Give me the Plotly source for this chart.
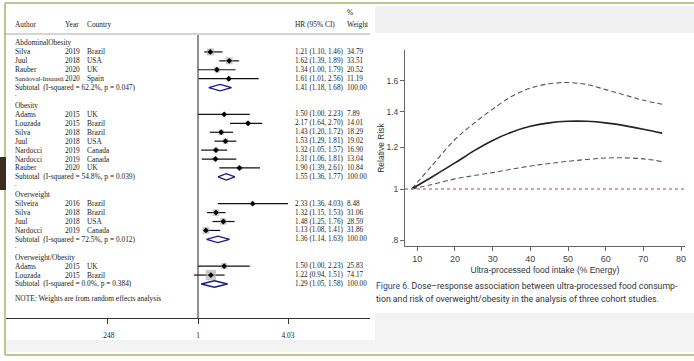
import math
import plotly.graph_objects as go

W, H = 694, 361

# ---------------- Forest plot data ----------------
groups = ["AbdominalObesity", "Obesity", "Overweight", "Overweight/Obesity"]
study_group = [0, 0, 0, 0, 1, 1, 1, 1, 1, 1, 1, 2, 2, 2, 2, 3, 3]
authors = ["Silva", "Juul", "Rauber", "Sandoval-Insausti",
           "Adams", "Louzada", "Silva", "Juul", "Nardocci", "Nardocci", "Rauber",
           "Silveira", "Silva", "Juul", "Nardocci",
           "Adams", "Louzada"]
years = [2019, 2018, 2020, 2020, 2015, 2015, 2018, 2018, 2019, 2019, 2020,
         2016, 2018, 2018, 2019, 2015, 2015]
countries = ["Brazil", "USA", "UK", "Spain",
             "UK", "Brazil", "Brazil", "USA", "Canada", "Canada", "UK",
             "Brazil", "Brazil", "USA", "Canada",
             "UK", "Brazil"]
hr = [1.21, 1.62, 1.34, 1.61, 1.50, 2.17, 1.43, 1.53, 1.32, 1.31, 1.90,
      2.33, 1.32, 1.48, 1.13, 1.50, 1.22]
hr_lo = [1.10, 1.39, 1.00, 1.01, 1.00, 1.64, 1.20, 1.29, 1.05, 1.06, 1.39,
         1.36, 1.15, 1.25, 1.08, 1.00, 0.94]
hr_hi = [1.46, 1.89, 1.79, 2.56, 2.23, 2.70, 1.72, 1.81, 1.57, 1.81, 2.61,
         4.03, 1.53, 1.76, 1.41, 2.23, 1.51]
weights = [34.79, 33.51, 20.52, 11.19, 7.89, 14.01, 18.29, 19.02, 16.90, 13.04, 10.84,
           8.48, 31.06, 28.59, 31.86, 25.83, 74.17]
sub_hr = [1.41, 1.55, 1.36, 1.29]
sub_lo = [1.18, 1.36, 1.14, 1.05]
sub_hi = [1.68, 1.77, 1.63, 1.58]
sub_i2 = ["62.2%", "54.8%", "72.5%", "0.0%"]
sub_p = ["0.047", "0.039", "0.012", "0.384"]
forest_ticks = [0.248, 1, 4.03]
forest_ticktext = [".248", "1", "4.03"]

# ---------------- Dose-response data ----------------
dose = [8.5, 14, 20, 25, 30, 35, 40, 45, 50, 55, 60, 65, 70, 75]
rr = [1.0, 1.055, 1.12, 1.18, 1.235, 1.28, 1.313, 1.333, 1.342, 1.342, 1.333, 1.317, 1.297, 1.275]
rr_upper = [1.0, 1.11, 1.24, 1.33, 1.415, 1.495, 1.55, 1.58, 1.588, 1.575, 1.54, 1.505, 1.47, 1.445]
rr_lower = [1.0, 1.02, 1.045, 1.06, 1.074, 1.09, 1.105, 1.117, 1.128, 1.137, 1.144, 1.145, 1.14, 1.127]
dr_xticks = [10, 20, 30, 40, 50, 60, 70, 80]
dr_yticks = [0.8, 1, 1.2, 1.4, 1.6]
dr_yticktext = [".8", "1", "1.2", "1.4", "1.6"]


def px_x(p):
    return p / W


def px_y(p):
    return 1 - p / H


# ---- row layout of the forest plot ----
row = 0
head_rows, study_rows, sub_rows, blank_rows = [], [], [], []
for g in range(len(groups)):
    head_rows.append(row)
    row += 1
    for i, sg in enumerate(study_group):
        if sg == g:
            study_rows.append(row)
            row += 1
    sub_rows.append(row)
    row += 1
    blank_rows.append(row)
    row += 1
note_row = row

fig = go.Figure()

# CI lines
cx, cy = [], []
for r, lo, hi in zip(study_rows, hr_lo, hr_hi):
    cx += [lo, hi, None]
    cy += [r, r, None]
fig.add_trace(go.Scatter(x=cx, y=cy, mode="lines", line=dict(color="#111", width=1.2),
                         xaxis="x", yaxis="y", hoverinfo="skip"))
# weight boxes
fig.add_trace(go.Scatter(x=hr, y=study_rows, mode="markers",
                         marker=dict(symbol="square", size=[1.2 * math.sqrt(w) for w in weights],
                                     color="#b4b4b4", line=dict(width=0)),
                         xaxis="x", yaxis="y"))
# point estimates
fig.add_trace(go.Scatter(x=hr, y=study_rows, mode="markers",
                         marker=dict(symbol="diamond", size=4.5, color="#000"),
                         xaxis="x", yaxis="y"))
# subtotal diamonds
dx, dy = [], []
for r, e, lo, hi in zip(sub_rows, sub_hr, sub_lo, sub_hi):
    dx += [lo, e, hi, e, lo, None]
    dy += [r, r - 0.36, r, r + 0.36, r, None]
fig.add_trace(go.Scatter(x=dx, y=dy, mode="lines", line=dict(color="#1b1b8a", width=1.4),
                         xaxis="x", yaxis="y"))

# dose-response curves
dash_style = "5px,3px"
fig.add_trace(go.Scatter(x=dose, y=rr_upper, mode="lines",
                         line=dict(color="#555", width=1.1, dash=dash_style, shape="spline"),
                         xaxis="x2", yaxis="y2"))
fig.add_trace(go.Scatter(x=dose, y=rr_lower, mode="lines",
                         line=dict(color="#555", width=1.1, dash=dash_style, shape="spline"),
                         xaxis="x2", yaxis="y2"))
fig.add_trace(go.Scatter(x=dose, y=rr, mode="lines", line=dict(color="#222", width=1.6, shape="spline"),
                         xaxis="x2", yaxis="y2"))

serif = "Liberation Serif, Times New Roman, serif"
sans = "Liberation Sans, Arial, sans-serif"
cap_font = "Roboto, Open Sans, sans-serif"
fs = 7.4
fs_num = 7.2
tcol = "#222"

ann = []


def txt(x, y, s, yref="y", size=fs, font=serif, color=tcol, xanchor="left"):
    ann.append(dict(x=x, y=y, xref="paper", yref=yref, text=s, showarrow=False,
                    xanchor=xanchor, yanchor="middle", font=dict(family=font, size=size, color=color)))


# header
txt(px_x(13), px_y(24), "Author", yref="paper")
txt(px_x(63), px_y(24), "Year", yref="paper")
txt(px_x(85), px_y(24), "Country", yref="paper")
txt(px_x(293), px_y(24), "HR (95% CI)", yref="paper")
txt(px_x(345), px_y(13), "%", yref="paper")
txt(px_x(345), px_y(24), "Weight", yref="paper")

for g, name in enumerate(groups):
    txt(px_x(13), head_rows[g], name)
    txt(px_x(13), sub_rows[g], f"Subtotal  (I-squared = {sub_i2[g]}, p = {sub_p[g]})")
    txt(px_x(293), sub_rows[g], f"{sub_hr[g]:.2f} ({sub_lo[g]:.2f}, {sub_hi[g]:.2f})", size=fs_num)
    txt(px_x(345), sub_rows[g], "100.00", size=fs_num)
for b in blank_rows[:-1]:
    txt(px_x(13), b - 0.25, ".", size=6)
for i, r in enumerate(study_rows):
    name = authors[i]
    txt(px_x(13), r, name, size=fs if len(name) < 12 else 6.8)
    txt(px_x(63), r, str(years[i]))
    txt(px_x(85), r, countries[i])
    txt(px_x(293), r, f"{hr[i]:.2f} ({hr_lo[i]:.2f}, {hr_hi[i]:.2f})", size=fs_num)
    txt(px_x(345), r, f"{weights[i]:.2f}", size=fs_num)
txt(px_x(13), note_row - 0.4, "NOTE: Weights are from random effects analysis")

# caption
ann.append(dict(x=px_x(374), y=px_y(286), xref="paper", yref="paper", showarrow=False,
                xanchor="left", yanchor="middle",
                text="<span style='color:#1f3f8f'>Figure 6.</span> Dose\u2013response association between ultra-processed food consump-",
                font=dict(family=cap_font, size=8.7, color="#333")))
ann.append(dict(x=px_x(374), y=px_y(299), xref="paper", yref="paper", showarrow=False,
                xanchor="left", yanchor="middle",
                text="tion and risk of overweight/obesity in the analysis of three cohort studies.",
                font=dict(family=cap_font, size=8.7, color="#333")))

green = "#bcc78e"
shapes = [
    # background bands
    dict(type="rect", xref="paper", yref="paper", x0=px_x(375), x1=1, y0=px_y(33), y1=px_y(6),
         fillcolor="#f1f1f1", line=dict(width=0), layer="below"),
    dict(type="rect", xref="paper", yref="paper", x0=px_x(375), x1=1, y0=px_y(352), y1=px_y(313),
         fillcolor="#f3f3f3", line=dict(width=0), layer="below"),
    dict(type="rect", xref="paper", yref="paper", x0=px_x(6), x1=px_x(375), y0=px_y(352), y1=px_y(340),
         fillcolor="#f3f3f3", line=dict(width=0), layer="below"),
    # green frame
    dict(type="line", xref="paper", yref="paper", x0=px_x(5), x1=1, y0=px_y(3), y1=px_y(3),
         line=dict(color=green, width=2)),
    dict(type="line", xref="paper", yref="paper", x0=px_x(5), x1=px_x(5), y0=px_y(3), y1=px_y(355),
         line=dict(color=green, width=2)),
    dict(type="line", xref="paper", yref="paper", x0=px_x(5), x1=1, y0=px_y(355), y1=px_y(355),
         line=dict(color=green, width=2)),
    # dark tab
    dict(type="rect", xref="paper", yref="paper", x0=0, x1=px_x(6), y0=px_y(190), y1=px_y(157),
         fillcolor="#3a2e22", line=dict(width=0)),
    # header rule
    dict(type="line", xref="paper", yref="paper", x0=px_x(5), x1=px_x(370), y0=px_y(34), y1=px_y(34),
         line=dict(color="#aaa", width=1)),
    # null line
    dict(type="line", xref="x", yref="paper", x0=1, x1=1, y0=px_y(318), y1=px_y(35),
         line=dict(color="#222", width=1)),
    # reference line RR = 1
    dict(type="line", xref="x2 domain", yref="y2", x0=0, x1=1, y0=1, y1=1,
         line=dict(color="#e07a86", width=1.5, dash="dot")),
]

fig.update_layout(
    width=W, height=H, margin=dict(l=0, r=0, t=0, b=0),
    paper_bgcolor="white", plot_bgcolor="rgba(0,0,0,0)", showlegend=False,
    annotations=ann, shapes=shapes,
    xaxis=dict(type="log", domain=[px_x(5), px_x(370)], range=[-1.2975, 1.1563], anchor="y",
               showline=True, linecolor="#333", linewidth=1, ticks="outside", ticklen=5,
               tickcolor="#333", tickvals=forest_ticks, ticktext=forest_ticktext,
               tickfont=dict(family=serif, size=fs, color=tcol), showgrid=False, zeroline=False,
               ticklabelstandoff=5),
    yaxis=dict(domain=[px_y(318), px_y(35)], range=[30.81, -0.896], visible=False,
               showgrid=False, zeroline=False),
    xaxis2=dict(domain=[px_x(405), px_x(685)], range=[6.73, 81.06], anchor="y2",
                showline=True, linecolor="#666", linewidth=1, ticks="outside", ticklen=4,
                tickcolor="#666", tickvals=dr_xticks, showgrid=False, zeroline=False,
                tickfont=dict(family=sans, size=9, color="#444"),
                title=dict(text="Ultra-processed food intake (% Energy)", standoff=4,
                           font=dict(family=sans, size=8.5, color="#333"))),
    yaxis2=dict(type="log", domain=[px_y(246), px_y(50)], range=[-0.1075, 0.2623], anchor="x2",
                showline=True, linecolor="#666", linewidth=1, ticks="outside", ticklen=4,
                tickcolor="#666", tickvals=dr_yticks, ticktext=dr_yticktext,
                showgrid=False, zeroline=False,
                tickfont=dict(family=sans, size=8.5, color="#444"),
                title=dict(text="Relative Risk", standoff=0,
                           font=dict(family=sans, size=8.5, color="#333"))),
)

fig.write_html("out.html", config={"displayModeBar": False},
               post_script="document.body.style.margin='0px';document.body.style.padding='0px';")
